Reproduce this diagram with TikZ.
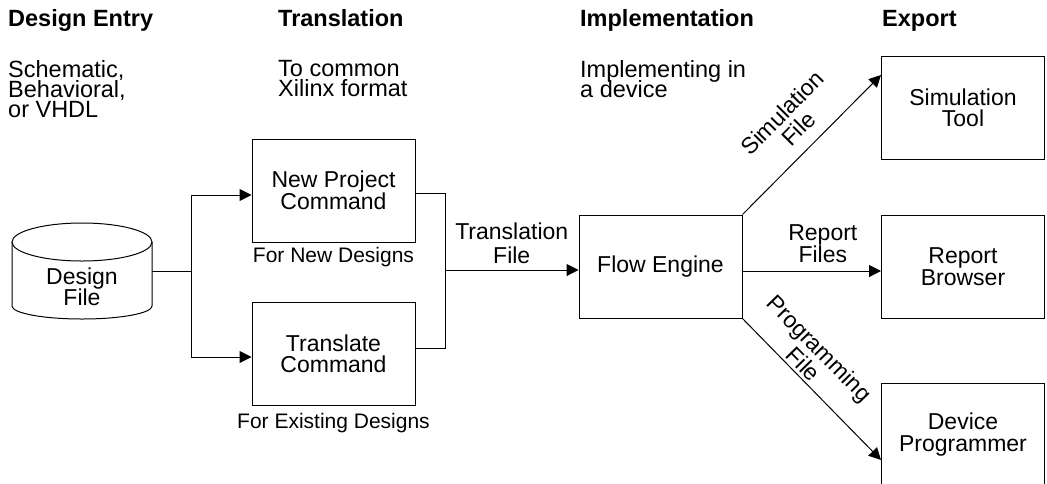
\documentclass[tikz,border=0pt]{standalone}
\usepackage{fontspec}
\setmainfont{Liberation Sans}
\usetikzlibrary{arrows.meta}
\newcommand\tightlines{\lineskiplimit=-100pt\relax}
\tikzset{
  box/.style={draw, line width=1pt, minimum width=163pt, minimum height=103pt, inner sep=0pt, align=center, font=\fontsize{23}{21.5}\selectfont\tightlines},
  lbl/.style={align=center, inner sep=0pt, font=\fontsize{23}{22.5}\selectfont\tightlines},
  capt/.style={anchor=base, inner sep=0pt, font=\fontsize{21}{21}\selectfont},
  hdr/.style={anchor=base west, inner sep=0pt, font=\bfseries\fontsize{23.5}{23.5}\selectfont},
  desc/.style={anchor=north west, inner sep=0pt, align=left, font=\fontsize{23.5}{20}\selectfont\tightlines},
  conn/.style={line width=1pt},
  arr/.style={conn, -{Triangle[length=12pt,width=12pt]}},
}
\begin{document}
\begin{tikzpicture}[x=1pt,y=-1pt]
\tightlines
\useasboundingbox (0,0) rectangle (1047,483);
\clip (0,0) rectangle (1047,483);
% headers
\node[hdr] (h1) at (8,26.7) {Design Entry};
\node[hdr] (h2) at (278,26.7) {Translation};
\node[hdr] (h3) at (580,26.7) {Implementation};
\node[hdr] (h4) at (882,26.7) {Export};
\node[desc] (d1) at (8,60) {Schematic,\\Behavioral,\\or VHDL};
\node[desc] (d2) at (278,60.5) {To common\\Xilinx format};
\node[desc] (d3) at (580,60) {Implementing in\\a device};
% design file cylinder
\node[minimum width=140pt, minimum height=96pt, inner sep=0pt, outer sep=0pt] (df) at (82,271) {};
\draw[conn] (12,242) -- (12,306) .. controls (12,313.2) and (43.3,319) .. (82,319) .. controls (120.7,319) and (152,313.2) .. (152,306) -- (152,242);
\draw[conn] (82,242) ellipse [x radius=70, y radius=19];
\node[align=center, inner sep=0pt, font=\fontsize{23}{21.5}\selectfont\tightlines] (dft) at (82,287) {Design\\File};
% boxes
\node[box] (np) at (333.5,190.5) {New Project\\Command};
\node[box] (tc) at (333.5,354) {Translate\\Command};
\node[box] (fe) at (660.5,266.5) {Flow Engine};
\node[box] (st) at (963,108) {Simulation\\Tool};
\node[box] (rb) at (963,266.5) {Report\\Browser};
\node[box] (dp) at (963,434.5) {Device\\Programmer};
\node[capt] (npc) at ([yshift=-20pt]np.south) {For New Designs};
\node[capt] (tcc) at ([yshift=-22pt]tc.south) {For Existing Designs};
% connectors
\coordinate (j) at (191,271);
\coordinate (k) at (445,270);
\draw[conn] (df.east) -- (j);
\draw[arr] (j) |- ([yshift=-4.5pt]np.west);
\draw[arr] (j) |- ([yshift=-3pt]tc.west);
\draw[conn] ([yshift=-2.5pt]np.east) -| (k);
\draw[conn] ([yshift=6pt]tc.east) -| (k);
\draw[arr] (k) -- node[lbl, font=\fontsize{23}{23.3}\selectfont\tightlines, above=6pt] (tfl) {Translation\\File} ([yshift=-3.5pt]fe.west);
\draw[arr] ([yshift=-4.5pt]fe.east) -- node[lbl, font=\fontsize{23}{21.6}\selectfont\tightlines, pos=0.58, above=8pt] (rfl) {Report\\Files} ([yshift=-4.5pt]rb.west);
\draw[arr] (fe.north east) -- node[lbl, sloped, pos=0.51, above=12pt] (sfl) {Simulation\\File} ([yshift=33pt]st.west);
\draw[arr] (fe.south east) -- node[lbl, sloped, pos=0.38, above=3pt] (pfl) {Programming\\File} ([yshift=-25.5pt]dp.west);
\end{tikzpicture}
\end{document}
